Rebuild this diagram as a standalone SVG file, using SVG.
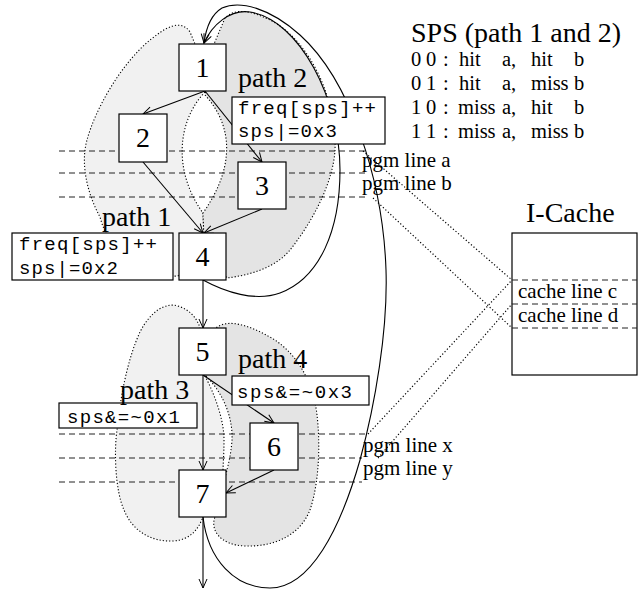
<svg xmlns="http://www.w3.org/2000/svg" width="640" height="590" viewBox="0 0 640 590">
<style>
.blobL{fill:#f1f1f1;stroke:#000;stroke-width:1.1;stroke-dasharray:1.2 2}
.blobR{fill:#e4e4e4;stroke:#000;stroke-width:1.1;stroke-dasharray:1.2 2}
.dash{stroke:#222;stroke-width:1;stroke-dasharray:6 4;fill:none}
.dot{stroke:#000;stroke-width:1.2;stroke-dasharray:1.2 2.2;fill:none}
.edge{stroke:#000;stroke-width:1.1;fill:none;marker-end:url(#arr)}
.box{fill:#fff;stroke:#000;stroke-width:1.2}
.num{font-family:"Liberation Serif",serif;font-size:28px;text-anchor:middle;fill:#000}
.lbl{font-family:"Liberation Serif",serif;font-size:28px;fill:#000}
.sm{font-family:"Liberation Serif",serif;font-size:21px;fill:#000}
.tb{font-family:"Liberation Serif",serif;font-size:20.5px;fill:#000}
.code{font-family:"Liberation Mono",monospace;font-size:19px;fill:#000}
</style>
<defs>
<marker id="arr" markerWidth="12" markerHeight="10" refX="10" refY="5" orient="auto" markerUnits="userSpaceOnUse">
<path d="M1,1 L10,5 L1,9" fill="none" stroke="#000" stroke-width="1"/>
</marker>
</defs>

<g id="blobs">
<path class="blobL" d="M205,92 C178,120 172,170 203,213 L204,240 L178,276 C140,278 110,255 100,217 C88,195 80,165 87,140 C95,110 120,65 150,40 C165,28 180,18 190,32 L195,44 Z"/>
<path class="blobR" d="M205,95 C228,120 240,160 203,213 L204,240 L227,278 C250,275 275,268 290,250 C310,225 333,185 335,150 C337,100 310,40 270,20 C250,10 235,8 225,18 L214,44 Z"/>
<path class="blobL" d="M205,376 C215,395 224,420 224,440 C224,455 223,465 223,470 L203,517 C198,530 190,540 173,541 C150,542 132,530 124,510 C115,490 114,450 117,430 C120,400 127,360 140,332 C150,312 165,302 178,306 C190,310 197,318 200,328 Z"/>
<path class="blobR" d="M206,376 C225,395 233,420 232,440 C231,455 228,465 227,470 L215,517 C210,530 220,545 245,546 C275,547 300,535 310,510 C320,480 320,440 317,415 C313,380 295,350 268,336 C250,326 228,318 216,328 Z"/>
</g>

<g id="pgm-lines">
<line class="dash" x1="59" y1="151" x2="368" y2="151"/>
<line class="dash" x1="59" y1="173" x2="366" y2="173"/>
<line class="dash" x1="59" y1="197" x2="366" y2="197"/>
<line class="dash" x1="59" y1="434" x2="367" y2="434"/>
<line class="dash" x1="59" y1="458" x2="362" y2="458"/>
<line class="dash" x1="59" y1="482" x2="362" y2="482"/>
<text class="sm" x="362" y="167">pgm line a</text>
<text class="sm" x="362" y="190">pgm line b</text>
<text class="sm" x="363" y="452">pgm line x</text>
<text class="sm" x="363" y="475">pgm line y</text>
</g>

<g id="cache">
<text class="lbl" x="526" y="222">I-Cache</text>
<rect x="512" y="233" width="125" height="142" fill="#fff" stroke="#000" stroke-width="1.2"/>
<line class="dash" x1="512" y1="280" x2="637" y2="280"/>
<line class="dash" x1="512" y1="304" x2="637" y2="304"/>
<line class="dash" x1="512" y1="328" x2="637" y2="328"/>
<text class="sm" x="518" y="298">cache line c</text>
<text class="sm" x="518" y="322">cache line d</text>
</g>

<g id="mapping">
<line class="dot" x1="363" y1="151" x2="512" y2="280"/>
<line class="dot" x1="373" y1="198" x2="512" y2="328"/>
<line class="dot" x1="368" y1="434" x2="512" y2="280"/>
<line class="dot" x1="378" y1="458" x2="512" y2="304"/>
</g>

<g id="sps-table">
<text class="lbl" x="411" y="42">SPS (path 1 and 2)</text>
<text class="tb" y="66"><tspan x="411">0</tspan><tspan x="426">0</tspan><tspan x="443">:</tspan><tspan x="459">hit</tspan><tspan x="502">a,</tspan><tspan x="531">hit</tspan><tspan x="574">b</tspan></text>
<text class="tb" y="90"><tspan x="411">0</tspan><tspan x="426">1</tspan><tspan x="443">:</tspan><tspan x="459">hit</tspan><tspan x="502">a,</tspan><tspan x="531">miss</tspan><tspan x="574">b</tspan></text>
<text class="tb" y="114"><tspan x="411">1</tspan><tspan x="426">0</tspan><tspan x="443">:</tspan><tspan x="458">miss</tspan><tspan x="502">a,</tspan><tspan x="531">hit</tspan><tspan x="574">b</tspan></text>
<text class="tb" y="138"><tspan x="411">1</tspan><tspan x="426">1</tspan><tspan x="443">:</tspan><tspan x="458">miss</tspan><tspan x="502">a,</tspan><tspan x="531">miss</tspan><tspan x="574">b</tspan></text>
</g>

<g id="connectors">
<line class="edge" x1="205" y1="91" x2="143" y2="114"/>
<line class="edge" x1="205" y1="91" x2="262" y2="162"/>
<line class="edge" x1="143" y1="162" x2="203" y2="233"/>
<line class="edge" x1="262" y1="209" x2="204" y2="233"/>
<line class="edge" x1="203" y1="280" x2="203" y2="328"/>
<line class="edge" x1="203" y1="375" x2="203" y2="470"/>
<line class="edge" x1="203" y1="375" x2="274" y2="423"/>
<line class="edge" x1="274" y1="470" x2="226" y2="493"/>
<line class="edge" x1="203" y1="517" x2="203" y2="588"/>
<path class="edge" d="M203,280 C225,292 255,302 280,293 C320,278 340,230 340,170 C340,100 300,20 250,12 C230,9 212,25 204,43"/>
<path class="edge" d="M203,517 C208,560 235,588 270,588 C310,588 340,530 360,460 C375,405 388,330 386,270 C383,180 350,80 300,35 C270,8 240,0 222,8 C212,14 206,28 204,43"/>
</g>

<g id="code-path2">
<rect class="box" x="232" y="97" width="153" height="47"/>
<text class="code" x="238" y="114" textLength="138" lengthAdjust="spacing">freq[sps]++</text>
<text class="code" x="238" y="137" textLength="99" lengthAdjust="spacing">sps|=0x3</text>
</g>
<g id="code-path1">
<rect class="box" x="12" y="233" width="161" height="47"/>
<text class="code" x="19" y="250" textLength="138" lengthAdjust="spacing">freq[sps]++</text>
<text class="code" x="19" y="274" textLength="99" lengthAdjust="spacing">sps|=0x2</text>
</g>
<g id="code-path4">
<rect class="box" x="232" y="376" width="137" height="29"/>
<text class="code" x="237" y="398" textLength="115" lengthAdjust="spacing">sps&amp;=~0x3</text>
</g>
<g id="code-path3">
<rect class="box" x="59" y="403" width="138" height="25"/>
<text class="code" x="67" y="423" textLength="113" lengthAdjust="spacing">sps&amp;=~0x1</text>
</g>

<g id="path-labels">
<text class="lbl" x="238" y="87">path 2</text>
<text class="lbl" x="102" y="226">path 1</text>
<text class="lbl" x="238" y="368">path 4</text>
<text class="lbl" x="120" y="399">path 3</text>
</g>

<g id="node1"><rect class="box" x="179" y="44" width="47" height="47"/><text class="num" x="202.5" y="77">1</text></g>
<g id="node2"><rect class="box" x="119" y="114" width="48" height="48"/><text class="num" x="143" y="147">2</text></g>
<g id="node3"><rect class="box" x="238" y="162" width="48" height="47"/><text class="num" x="262" y="195">3</text></g>
<g id="node4"><rect class="box" x="179" y="233" width="47" height="47"/><text class="num" x="202.5" y="266">4</text></g>
<g id="node5"><rect class="box" x="179" y="328" width="47" height="47"/><text class="num" x="202.5" y="361">5</text></g>
<g id="node6"><rect class="box" x="250" y="423" width="48" height="47"/><text class="num" x="274" y="456">6</text></g>
<g id="node7"><rect class="box" x="179" y="470" width="47" height="47"/><text class="num" x="202.5" y="503">7</text></g>
</svg>
